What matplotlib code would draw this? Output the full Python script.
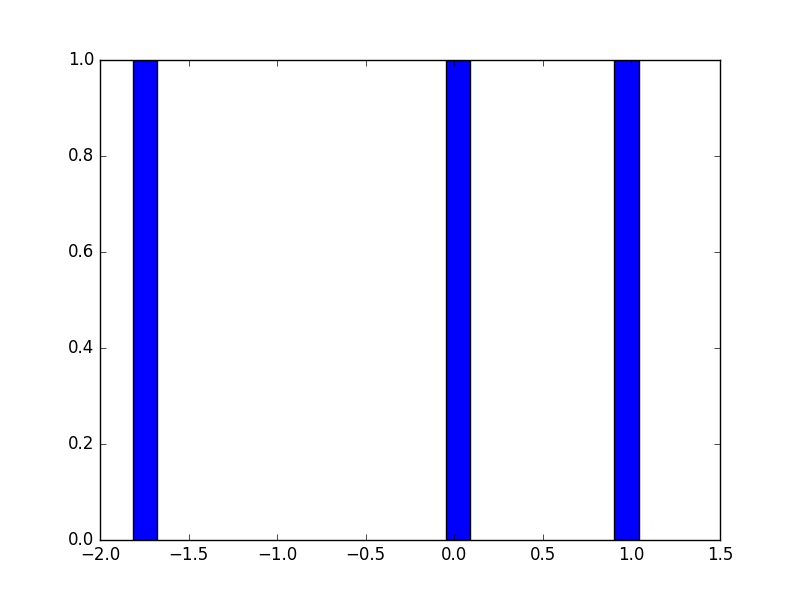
import matplotlib
matplotlib.use("Agg")
import matplotlib.pyplot as plt

# left edges of the bars and their heights
bar_left = [-1.814, -0.047, 0.904]
bar_height = [1, 1, 1]

plt.style.use("classic")

fig = plt.figure(figsize=(8, 6), dpi=100)
ax = fig.add_subplot(111)

ax.bar(bar_left, bar_height, width=0.138, align="edge", color="b", edgecolor="k")

ax.set_xlim(-2.0, 1.5)
ax.set_ylim(0.0, 1.0)

fig.savefig("out.png", dpi=100)
